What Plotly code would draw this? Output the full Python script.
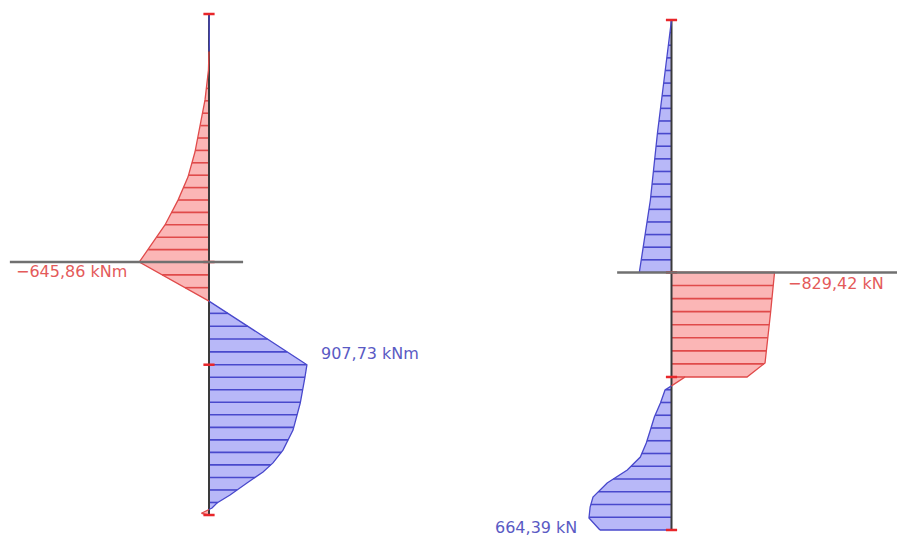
import numpy as np
import plotly.graph_objects as go

# Stations along the wall (m, measured downward from the top)
moment_z = [0.0, 0.6, 1.2, 1.5, 2.24, 3.43, 4.51, 5.51, 6.51, 7.43, 8.42, 9.42, 9.90,
            11.46, 14.0, 14.49, 15.53, 16.61, 17.41, 17.92, 18.28, 18.72, 19.20,
            19.52, 19.72, 19.78, 19.93, 20.0]
# Bending moment (kNm)
moment_kNm = [0.0, 3.0, 3.0, 0.0, -5.0, -37.0, -83.0, -130.0, -195.0, -287.0, -408.0,
              -565.0, -645.86, 0.0, 907.73, 890.0, 846.0, 779.0, 686.0, 593.0, 501.0,
              352.0, 195.0, 74.0, 28.0, 0.0, -70.0, 0.0]

shear_z = [0.0, 2.0, 4.43, 7.06, 9.90, 9.90, 11.5, 13.45, 14.0, 14.0, 14.35, 14.51,
           15.02, 15.57, 16.08, 16.59, 17.14, 17.65, 18.16, 18.71, 19.10, 19.53, 20.0]
# Shear force (kN)
shear_kN = [0.0, 50.0, 113.0, 170.0, 259.0, -829.42, -797.0, -753.0, -608.0, -110.0,
            0.0, 52.0, 89.0, 138.0, 170.0, 203.0, 251.0, 356.0, 518.0, 632.0, 655.0,
            664.39, 576.0]

# Element nodes and the support level
node_z = [0.0, 9.9, 14.0, 20.0]
support_z = 9.9
hatch_step = 0.5

RED_FILL, RED_LINE, RED_TEXT = "#fbb6b6", "#e04a4a", "#e45a5a"
BLUE_FILL, BLUE_LINE, BLUE_TEXT = "#b8b8f8", "#4848cc", "#5a5ac4"
AXIS_COLOR, LEVEL_COLOR = "#3a3a3a", "#707070"
FONT = "DejaVu Sans"


def with_crossings(z, v):
    """Insert zero points wherever the diagram changes sign between stations."""
    oz, ov = [z[0]], [v[0]]
    for i in range(1, len(z)):
        z0, v0, z1, v1 = z[i - 1], v[i - 1], z[i], v[i]
        if v0 * v1 < 0:
            oz.append(z0 + (z1 - z0) * (-v0) / (v1 - v0))
            ov.append(0.0)
        oz.append(z1)
        ov.append(v1)
    return np.array(oz), np.array(ov)


def hatch_positions():
    parts = [np.linspace(a, b, int(round((b - a) / hatch_step)) + 1)
             for a, b in zip(node_z[:-1], node_z[1:])]
    return np.unique(np.concatenate(parts))


def add_diagram(fig, z_in, v_in, xa, ya):
    z, v = with_crossings(z_in, v_in)
    sgn = np.sign(v)
    styles = [(1, BLUE_FILL, BLUE_LINE), (-1, RED_FILL, RED_LINE)]

    # filled areas between the wall axis and the diagram
    for s, fill, _ in styles:
        part = np.where(sgn == s, v, 0.0)
        fig.add_trace(go.Scatter(
            x=[0.0] + list(part) + [0.0], y=[z[0]] + list(z) + [z[-1]],
            fill="toself", fillcolor=fill, mode="none",
            xaxis=xa, yaxis=ya, hoverinfo="skip"))

    # hatching at regular stations
    hz = hatch_positions()
    hv = np.interp(hz, z, v)
    for s, _, line in styles:
        xs, ys = [], []
        for zz, val in zip(hz, hv):
            if np.sign(val) == s and abs(val) > 1.0:
                xs += [0.0, val, None]
                ys += [zz, zz, None]
        fig.add_trace(go.Scatter(x=xs, y=ys, mode="lines",
                                 line=dict(color=line, width=1.6),
                                 xaxis=xa, yaxis=ya, hoverinfo="skip"))

    # wall axis
    fig.add_trace(go.Scatter(x=[0, 0], y=[node_z[0], node_z[-1]], mode="lines",
                             line=dict(color=AXIS_COLOR, width=2),
                             xaxis=xa, yaxis=ya, hoverinfo="skip"))

    # diagram outline
    for s, _, line in styles:
        ox = []
        for i in range(len(v)):
            keep = sgn[i] == s or (sgn[i] == 0 and (
                (i > 0 and sgn[i - 1] == s) or (i < len(v) - 1 and sgn[i + 1] == s)))
            ox.append(v[i] if keep else None)
        fig.add_trace(go.Scatter(x=ox, y=list(z), mode="lines",
                                 line=dict(color=line, width=1.3),
                                 xaxis=xa, yaxis=ya, hoverinfo="skip"))

    # node marks
    fig.add_trace(go.Scatter(x=[0] * len(node_z), y=node_z, mode="markers",
                             marker=dict(symbol="line-ew", size=8,
                                         line=dict(color="#e8262a", width=2.5)),
                             xaxis=xa, yaxis=ya, hoverinfo="skip"))


def fmt(val):
    s = f"{abs(val):.2f}".replace(".", ",")
    return ("\u2212" + s) if val < 0 else s


fig = go.Figure()
add_diagram(fig, moment_z, moment_kNm, "x", "y")
add_diagram(fig, shear_z, shear_kN, "x2", "y2")

# support level lines
fig.add_shape(type="line", xref="x domain", yref="y", x0=0.022, x1=0.542,
              y0=support_z, y1=support_z, line=dict(color=LEVEL_COLOR, width=2.5),
              layer="above")
fig.add_shape(type="line", xref="x2 domain", yref="y2", x0=0.376, x1=1.0,
              y0=support_z, y1=support_z, line=dict(color=LEVEL_COLOR, width=2.5),
              layer="above")

# extreme value labels
m_min_i = int(np.argmin(moment_kNm)); m_max_i = int(np.argmax(moment_kNm))
v_min_i = int(np.argmin(shear_kN)); v_max_i = int(np.argmax(shear_kN))
labels = [
    ("x", "y", moment_kNm[m_min_i], moment_z[m_min_i], fmt(moment_kNm[m_min_i]) + " kNm",
     RED_TEXT, "right", -10, -9),
    ("x", "y", moment_kNm[m_max_i], moment_z[m_max_i], fmt(moment_kNm[m_max_i]) + " kNm",
     BLUE_TEXT, "left", 12, 11),
    ("x2", "y2", shear_kN[v_min_i], shear_z[v_min_i], fmt(shear_kN[v_min_i]) + " kN",
     RED_TEXT, "left", 11, -11),
    ("x2", "y2", shear_kN[v_max_i], shear_z[v_max_i], fmt(shear_kN[v_max_i]) + " kN",
     BLUE_TEXT, "right", -10, -9),
]
for xr, yr, x, y, text, color, anchor, dx, dy in labels:
    fig.add_annotation(xref=xr, yref=yr, x=x, y=y, text=text, showarrow=False,
                       xanchor=anchor, yanchor="middle", xshift=dx, yshift=dy,
                       font=dict(family=FONT, size=16, color=color))

fig.update_layout(
    width=897, height=537, margin=dict(l=0, r=0, t=0, b=0),
    paper_bgcolor="white", plot_bgcolor="white", showlegend=False,
    xaxis=dict(domain=[0, 0.5], range=[-1937.4, 2220.2], visible=False, anchor="y"),
    yaxis=dict(domain=[0, 1], range=[20.878, -0.559], visible=False, anchor="x"),
    xaxis2=dict(domain=[0.5, 1], range=[1795.2, -1815.3], visible=False, anchor="y2"),
    yaxis2=dict(domain=[0, 1], range=[20.275, -0.784], visible=False, anchor="x2"),
)

fig.write_html("out.html")
